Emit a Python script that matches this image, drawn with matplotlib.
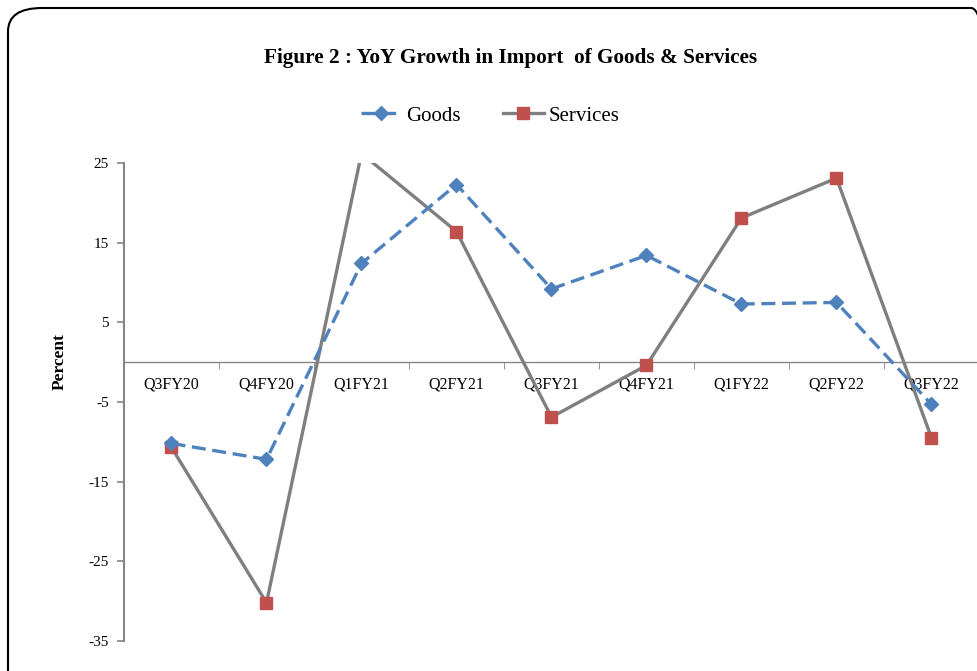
import matplotlib
matplotlib.use("Agg")
import matplotlib.pyplot as plt
from matplotlib.patches import FancyBboxPatch
from matplotlib.lines import Line2D

categories = ["Q3FY20", "Q4FY20", "Q1FY21", "Q2FY21", "Q3FY21", "Q4FY21", "Q1FY22", "Q2FY22", "Q3FY22"]
goods = [-10.2, -12.2, 12.4, 22.3, 9.2, 13.4, 7.3, 7.5, -5.3]
services = [-10.7, -30.2, 26.2, 16.4, -6.9, -0.4, 18.1, 23.1, -9.5]
yticks = [-35, -25, -15, -5, 5, 15, 25]

plt.rcParams['font.family'] = ['Liberation Serif', 'DejaVu Serif']

fig = plt.figure(figsize=(9.78, 6.71), dpi=100)
W, H = 978, 671

# outer rounded frame
frame = FancyBboxPatch((8 / W, -0.05), 1.02, 1 - 8 / H + 0.05,
                       boxstyle="round,pad=0,rounding_size=0.035",
                       transform=fig.transFigure, fill=False,
                       edgecolor="black", linewidth=1.5, clip_on=False)
fig.patches.append(frame)

ax = fig.add_axes([124 / W, 1 - 641 / H, (979 - 124) / W, (641 - 163) / H])
x = list(range(len(categories)))

blue = "#4F81BD"
gray = "#7F7F7F"
red = "#C0504D"

ax.plot(x, services, color=gray, linewidth=2.4, marker="s", markersize=8.5,
        markerfacecolor=red, markeredgecolor=red, zorder=3)
ax.plot(x, goods, color=blue, linewidth=2.4, linestyle=(0, (4.2, 2)), marker="D",
        markersize=7, markerfacecolor=blue, markeredgecolor=blue, zorder=4)

ax.set_xlim(-0.5, len(categories) - 0.5)
ax.set_ylim(-35, 25)

for s in ["top", "right"]:
    ax.spines[s].set_visible(False)
ax.spines["left"].set_color("#868686")
ax.spines["left"].set_linewidth(1.5)
ax.spines["bottom"].set_position(("data", 0))
ax.spines["bottom"].set_color("#868686")
ax.spines["bottom"].set_linewidth(1.0)

ax.set_yticks(yticks)
ax.set_yticklabels([str(v) for v in yticks], fontsize=11)
ax.tick_params(axis="y", direction="out", length=5, color="#868686", width=1.2, pad=6)

ax.set_xticks(x)
ax.set_xticklabels(categories, fontsize=11.5)
ax.tick_params(axis="x", which="major", length=0, pad=10)
ax.set_xticks([i + 0.5 for i in x[:-1]], minor=True)
ax.tick_params(axis="x", which="minor", direction="out", length=5, color="#868686")

fig.text(60 / W, 1 - 362 / H, "Percent", rotation=90, ha="center", va="center",
         fontsize=12.5, fontweight="bold")
fig.text(511 / W, 1 - 58 / H, "Figure 2 : YoY Growth in Import  of Goods & Services",
         ha="center", va="center", fontsize=15.3, fontweight="bold")

handles = [
    Line2D([], [], color=blue, linewidth=2.4, linestyle=(0, (4.2, 2)), marker="D",
           markersize=7, markerfacecolor=blue, markeredgecolor=blue),
    Line2D([], [], color=gray, linewidth=2.4, marker="s", markersize=8.5,
           markerfacecolor=red, markeredgecolor=red),
]
fig.legend(handles, ["Goods", "Services"], loc="center", bbox_to_anchor=(490 / W, 1 - 116 / H),
           ncol=2, frameon=False, fontsize=15, handlelength=2.0, handletextpad=0.2,
           columnspacing=2.0)

fig.savefig("out.png", dpi=100)
